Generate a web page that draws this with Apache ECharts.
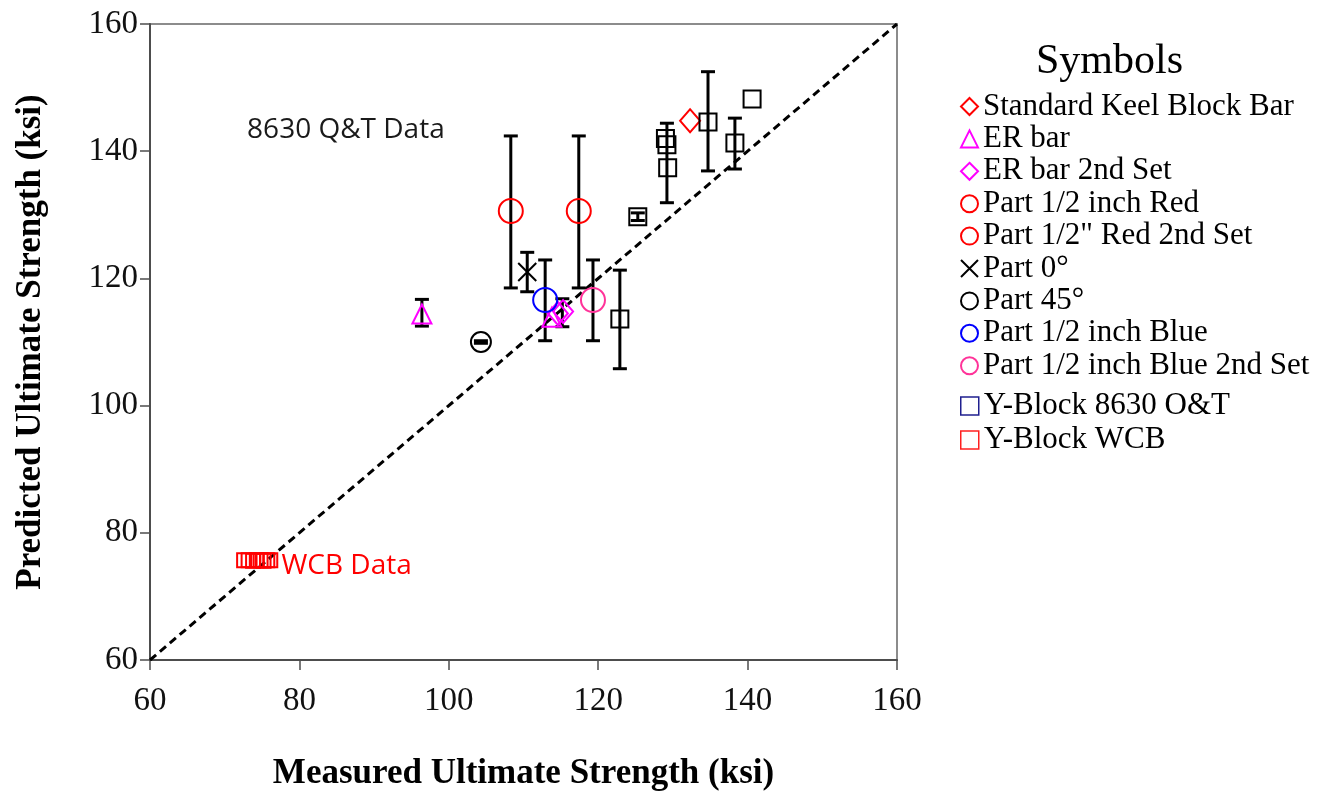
<!DOCTYPE html>
<html>
<head>
<meta charset="utf-8">
<script src="https://cdn.jsdelivr.net/npm/echarts@6.0.0/dist/echarts.min.js"></script>
<style>
  html, body { margin: 0; padding: 0; background: #fff; }
  #chart { width: 1331px; height: 796px; }
</style>
</head>
<body>
<div id="chart"></div>
<script>
// Measured vs predicted ultimate strength (ksi), [measured, predicted]
const standardKeel   = [[132.3, 144.8]];
const erBar          = [[96.4, 114.4], [113.8, 113.9]];
const erBar2nd       = [[114.6, 114.5], [115.3, 114.8]];
const partRed        = [[108.3, 130.6]];
const partRed2nd     = [[117.4, 130.6]];
const part0          = [[110.5, 121.0]];
const part45         = [[104.3, 110.0]];
const partBlue       = [[112.9, 116.6]];
const partBlue2nd    = [[119.3, 116.6]];
const yBlock8630     = [[122.9, 113.6], [125.3, 129.7], [129.0, 142.0], [129.2, 141.0],
                        [129.3, 137.4], [134.7, 144.6], [138.3, 141.3], [140.6, 148.2]];
const yBlockWcb      = [[72.6, 75.7], [73.2, 75.7], [73.8, 75.6], [74.3, 75.7],
                        [74.8, 75.7], [75.2, 75.6], [75.7, 75.7], [76.1, 75.7]];

// Error bars: [measured, predicted low, predicted high]
const errorBars = [
  [96.4, 112.5, 116.7], [108.3, 118.5, 142.4], [117.4, 118.5, 142.4],
  [110.5, 117.9, 124.1], [112.9, 110.2, 122.9], [115.2, 112.4, 116.8],
  [119.3, 110.2, 122.9], [104.3, 109.8, 110.2], [122.9, 105.8, 121.3],
  [125.3, 129.1, 130.3], [129.2, 131.9, 144.4], [134.7, 136.9, 152.5],
  [138.3, 137.2, 145.2]
];

// 1:1 reference line
const unityLine = [[60, 60], [160, 160]];

// Axis ticks
const axisMin = 60, axisMax = 160, axisStep = 20;

// Text notes: [x, y, text, colour]
const notes = [[73.0, 143.3, '8630 Q&T Data', '#1a1a1a'], [77.6, 74.8, 'WCB Data', '#ff0000']];

const serif = '"Liberation Serif", "DejaVu Serif", serif';
const crossPath = 'path://M0,0L10,10M10,0L0,10';

function scatter(name, data, symbol, color, size) {
  return {
    name: name,
    type: 'scatter',
    data: data,
    symbol: symbol,
    symbolSize: size,
    z: 4,
    itemStyle: { color: 'rgba(255,255,255,0)', borderColor: color, borderWidth: 2, opacity: 1 },
    emphasis: { disabled: true }
  };
}

const chart = echarts.init(document.getElementById('chart'), null, { renderer: 'canvas' });

const legendFirst = ['Standard Keel Block Bar', 'ER bar', 'ER bar 2nd Set', 'Part 1/2 inch Red',
  'Part 1/2" Red 2nd Set', 'Part 0°', 'Part 45°', 'Part 1/2 inch Blue', 'Part 1/2 inch Blue 2nd Set'];

const legendText = { fontFamily: serif, fontSize: 31, color: '#000', lineHeight: 31 };

chart.setOption({
  animation: false,
  backgroundColor: '#fff',
  title: {
    text: 'Symbols',
    left: 1031, top: 36,
    textStyle: { fontFamily: serif, fontSize: 42, fontWeight: 'normal', color: '#000' }
  },
  legend: [{
    orient: 'vertical',
    left: 955, top: 86,
    itemWidth: 17, itemHeight: 17, itemGap: 1.4,
    selectedMode: false,
    textStyle: legendText,
    data: legendFirst
  }, {
    orient: 'vertical',
    left: 955, top: 385.5,
    itemWidth: 18, itemHeight: 18, itemGap: 3,
    selectedMode: false,
    textStyle: legendText,
    data: [
      { name: 'Y-Block 8630 O&T', itemStyle: { borderColor: '#1f1f8f', borderWidth: 1.5 } },
      { name: 'Y-Block WCB', itemStyle: { borderColor: '#ff2020', borderWidth: 1.5 } }
    ]
  }],
  grid: {
    left: 150, right: 434, top: 24, bottom: 136,
    show: true, borderColor: '#8c8c8c', borderWidth: 2
  },
  xAxis: {
    type: 'value', min: axisMin, max: axisMax, interval: axisStep,
    name: 'Measured Ultimate Strength (ksi)',
    nameLocation: 'middle', nameGap: 96,
    nameTextStyle: { fontFamily: serif, fontSize: 35, fontWeight: 'bold', color: '#000' },
    axisLine: { lineStyle: { color: '#4d4d4d', width: 2 } },
    axisTick: { length: 10, lineStyle: { color: '#4d4d4d', width: 1.5 } },
    axisLabel: { fontFamily: serif, fontSize: 33, color: '#111', margin: 25 },
    splitLine: { show: false }
  },
  yAxis: {
    type: 'value', min: axisMin, max: axisMax, interval: axisStep,
    name: 'Predicted Ultimate Strength (ksi)',
    nameLocation: 'middle', nameGap: 102,
    nameTextStyle: { fontFamily: serif, fontSize: 35, fontWeight: 'bold', color: '#000' },
    axisLine: { lineStyle: { color: '#4d4d4d', width: 2 } },
    axisTick: { length: 10, lineStyle: { color: '#4d4d4d', width: 1.5 } },
    axisLabel: { fontFamily: serif, fontSize: 33, color: '#111', margin: 12 },
    splitLine: { show: false }
  },
  series: [
    {
      name: 'unity', type: 'line', data: unityLine, symbol: 'none', z: 2,
      lineStyle: { color: '#000', width: 3, type: [8, 5] }, silent: true
    },
    {
      name: 'error', type: 'custom', data: errorBars, z: 3, silent: true,
      encode: { x: 0, y: [1, 2] },
      renderItem: function (params, api) {
        const x = api.value(0);
        const lo = api.coord([x, api.value(1)]);
        const hi = api.coord([x, api.value(2)]);
        const half = 7;
        const st = { stroke: '#000', lineWidth: 3 };
        return {
          type: 'group',
          children: [
            { type: 'line', shape: { x1: lo[0], y1: lo[1], x2: hi[0], y2: hi[1] }, style: st },
            { type: 'line', shape: { x1: lo[0] - half, y1: lo[1], x2: lo[0] + half, y2: lo[1] }, style: st },
            { type: 'line', shape: { x1: hi[0] - half, y1: hi[1], x2: hi[0] + half, y2: hi[1] }, style: st }
          ]
        };
      }
    },
    scatter('Standard Keel Block Bar', standardKeel, 'diamond', '#ff0000', [20, 23]),
    scatter('ER bar', erBar, 'triangle', '#ff00ff', [19, 19]),
    scatter('ER bar 2nd Set', erBar2nd, 'diamond', '#ff00ff', [20, 23]),
    scatter('Part 1/2 inch Red', partRed, 'circle', '#ff0000', 24),
    scatter('Part 1/2" Red 2nd Set', partRed2nd, 'circle', '#ff0000', 24),
    scatter('Part 0°', part0, crossPath, '#000', 18),
    scatter('Part 45°', part45, 'circle', '#000', 20),
    scatter('Part 1/2 inch Blue', partBlue, 'circle', '#0000ff', 24),
    scatter('Part 1/2 inch Blue 2nd Set', partBlue2nd, 'circle', '#ff3399', 24),
    scatter('Y-Block 8630 O&T', yBlock8630, 'rect', '#000', 17),
    scatter('Y-Block WCB', yBlockWcb, 'rect', '#ff0000', 14),
    {
      name: 'notes', type: 'scatter', symbolSize: 0, silent: true, z: 5,
      itemStyle: { opacity: 1 },
      data: notes.map(function (n) {
        return {
          value: [n[0], n[1]],
          itemStyle: { opacity: 1 },
          label: {
            show: true, position: 'right', distance: 0, formatter: n[2],
            fontFamily: '"Open Sans", "Noto Sans", sans-serif', fontSize: 28, color: n[3], opacity: 1
          }
        };
      })
    }
  ]
});
</script>
</body>
</html>
